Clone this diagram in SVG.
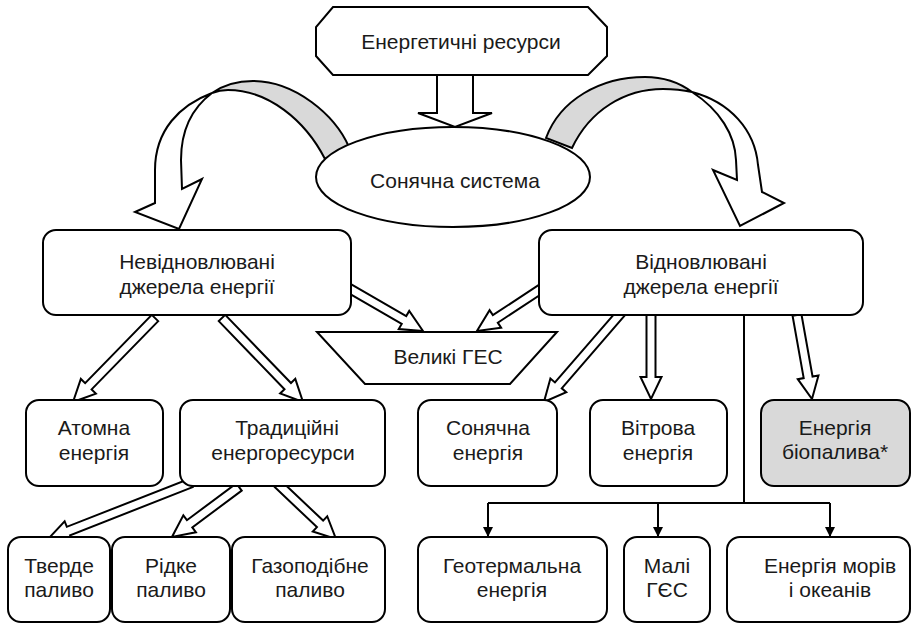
<svg xmlns="http://www.w3.org/2000/svg" width="912" height="624" viewBox="0 0 912 624">
<defs>
<style>
.bx{fill:#fff;stroke:#000;stroke-width:2}
.gr{fill:#d9d9d9;stroke:#000;stroke-width:2}
.ha{fill:#fff;stroke:#000;stroke-width:2;stroke-linejoin:miter}
.ln{fill:none;stroke:#000;stroke-width:2}
text{font-family:"Liberation Sans",Arial,sans-serif;font-size:21px;fill:#1a1a1a;text-anchor:middle}
</style>
<marker id="ah" viewBox="0 0 10 10" refX="10" refY="5" markerWidth="10" markerHeight="10" markerUnits="userSpaceOnUse" orient="auto">
<path d="M0,0 L10,5 L0,10 Z" fill="#000"/>
</marker>
</defs>
<rect width="912" height="624" fill="#fff"/>

<g id="connectors">
  <!-- top fat arrow -->
  <polygon class="ha" points="437,75 473,75 473,113 492,113 455,127 418,113 437,113"/>
  <!-- left curved arrow -->
  <path class="gr" d="M349,147 C335,115 295,81 253,81 C236,81 222,86 212,93 C217,91 222,90 228,90 C268,90 305,120 325,159 Z"/>
  <path class="ha" d="M212,93 C192,108 181,130 181,160 L182,189 L202,179 L179,229 L135,212 L155,203 L155,170 C155,130 180,105 212,93 Z"/>
  <!-- right curved arrow -->
  <path class="gr" d="M546,138 C560,100 600,77 645,77 C665,77 680,83 692,92 C683,90 673,89 663,89 C625,89 590,110 572,148 Z"/>
  <path class="ha" d="M692,92 C720,110 735,135 736,160 L737,180 L713,170 L740,226 L784,203 L762,192 L758,165 C755,130 730,102 692,92 Z"/>
  <!-- hollow block arrows -->
  <path class="ha" transform="translate(340,283) rotate(30.04)" d="M0,-4.5 H73.9 V-10.5 L95.9,0 L73.9,10.5 V4.5 H0 Z"/>
  <path class="ha" transform="translate(550,283) rotate(146.7)" d="M0,-4.5 H65.4 V-10.5 L87.4,0 L65.4,10.5 V4.5 H0 Z"/>
  <path class="ha" transform="translate(155,318) rotate(134.3)" d="M0,-4.5 H95.4 V-10.5 L117.4,0 L95.4,10.5 V4.5 H0 Z"/>
  <path class="ha" transform="translate(222,318) rotate(46.04)" d="M0,-4.5 H94.7 V-10.5 L116.7,0 L94.7,10.5 V4.5 H0 Z"/>
  <path class="ha" transform="translate(191,483) rotate(158.6)" d="M0,-4.5 H131.6 V-10.5 L153.6,0 L131.6,10.5 V4.5 H0 Z"/>
  <path class="ha" transform="translate(239,487) rotate(143.3)" d="M0,-4.5 H61.6 V-10.5 L83.6,0 L61.6,10.5 V4.5 H0 Z"/>
  <path class="ha" transform="translate(278,484) rotate(43.48)" d="M0,-4.5 H57.9 V-10.5 L79.9,0 L57.9,10.5 V4.5 H0 Z"/>
  <path class="ha" transform="translate(621,313) rotate(130.9)" d="M0,-4.5 H95.7 V-10.5 L117.7,0 L95.7,10.5 V4.5 H0 Z"/>
  <path class="ha" transform="translate(651,315) rotate(90)" d="M0,-4.5 H62 V-10.5 L84,0 L62,10.5 V4.5 H0 Z"/>
  <path class="ha" transform="translate(797,315) rotate(79.88)" d="M0,-4.5 H63.3 V-10.5 L85.3,0 L63.3,10.5 V4.5 H0 Z"/>
  <!-- thin tree connector -->
  <path class="ln" d="M744,315 V503 M488,503 H830"/>
  <line class="ln" x1="488" y1="503" x2="488" y2="537" marker-end="url(#ah)"/>
  <line class="ln" x1="658" y1="503" x2="658" y2="537" marker-end="url(#ah)"/>
  <line class="ln" x1="830" y1="503" x2="830" y2="537" marker-end="url(#ah)"/>
</g>

<g id="n-resources">
  <polygon class="bx" points="333,7 588,7 607,27 607,56 588,75 333,75 316,56 316,27"/>
  <text x="461" y="49">Енергетичні ресурси</text>
</g>
<g id="n-solar-system">
  <ellipse class="bx" cx="453" cy="177" rx="137" ry="50"/>
  <text x="455" y="188">Сонячна система</text>
</g>
<g id="n-nonrenewable">
  <rect class="bx" x="43" y="230" width="308" height="85" rx="13"/>
  <text x="197" y="269">Невідновлювані</text>
  <text x="197" y="294">джерела енергії</text>
</g>
<g id="n-renewable">
  <rect class="bx" x="539" y="230" width="324" height="85" rx="13"/>
  <text x="701" y="269">Відновлювані</text>
  <text x="701" y="294">джерела енергії</text>
</g>
<g id="n-big-hpp">
  <polygon class="bx" points="317,332 557,332 510,384 365,384"/>
  <text x="448" y="364">Великі ГЕС</text>
</g>
<g id="n-atomic">
  <rect class="bx" x="26" y="400" width="137" height="86" rx="13"/>
  <text x="94" y="435">Атомна</text>
  <text x="94" y="460">енергія</text>
</g>
<g id="n-traditional">
  <rect class="bx" x="180" y="400" width="205" height="86" rx="13"/>
  <text x="287" y="435">Традиційні</text>
  <text x="283" y="460">енергоресурси</text>
</g>
<g id="n-solar">
  <rect class="bx" x="418" y="400" width="139" height="86" rx="13"/>
  <text x="488" y="435">Сонячна</text>
  <text x="488" y="460">енергія</text>
</g>
<g id="n-wind">
  <rect class="bx" x="590" y="400" width="137" height="86" rx="13"/>
  <text x="658" y="435">Вітрова</text>
  <text x="658" y="460">енергія</text>
</g>
<g id="n-biofuel">
  <rect class="gr" x="761" y="400" width="149" height="86" rx="13"/>
  <text x="835" y="435">Енергія</text>
  <text x="835" y="459">біопалива*</text>
</g>
<g id="n-solid">
  <rect class="bx" x="8" y="537" width="102" height="85" rx="13"/>
  <text x="59" y="573">Тверде</text>
  <text x="59" y="597">паливо</text>
</g>
<g id="n-liquid">
  <rect class="bx" x="112" y="537" width="118" height="85" rx="13"/>
  <text x="171" y="573">Рідке</text>
  <text x="171" y="597">паливо</text>
</g>
<g id="n-gas">
  <rect class="bx" x="232" y="537" width="153" height="85" rx="13"/>
  <text x="310" y="573">Газоподібне</text>
  <text x="310" y="597">паливо</text>
</g>
<g id="n-geothermal">
  <rect class="bx" x="418" y="537" width="189" height="85" rx="13"/>
  <text x="512" y="573">Геотермальна</text>
  <text x="512" y="597">енергія</text>
</g>
<g id="n-small-hpp">
  <rect class="bx" x="624" y="537" width="86" height="85" rx="13"/>
  <text x="667" y="573">Малі</text>
  <text x="667" y="597">ГЄС</text>
</g>
<g id="n-sea">
  <rect class="bx" x="727" y="537" width="183" height="85" rx="13"/>
  <text x="830" y="573">Енергія морів</text>
  <text x="830" y="597">і океанів</text>
</g>
</svg>
